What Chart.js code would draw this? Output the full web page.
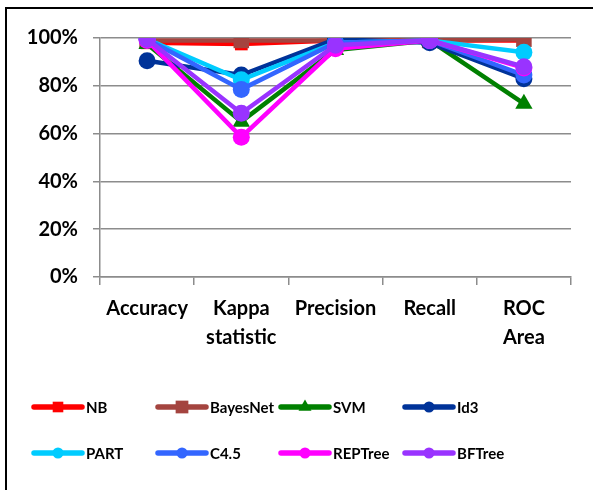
<!DOCTYPE html>
<html>
<head>
<meta charset="utf-8">
<script src="https://cdn.jsdelivr.net/npm/chart.js@4/dist/chart.umd.min.js"></script>
<style>
  body { margin: 0; background: #fff; }
  #wrap { position: relative; width: 593px; height: 490px; overflow: hidden; }
  #frame { position: absolute; left: 5px; top: 7px; width: 700px; height: 700px;
           border-left: 2px solid #000; border-top: 2px solid #000; }
  canvas { position: absolute; left: 0; top: 0; }
</style>
</head>
<body>
<div id="wrap">
  <div id="frame"></div>
  <canvas id="myChart" width="593" height="490"></canvas>
</div>
<script>
// metrics on the x axis
const categories = [['Accuracy'], ['Kappa', 'statistic'], ['Precision'], ['Recall'], ['ROC', 'Area']]

// classifiers, in legend order
const seriesNames = ['NB', 'BayesNet', 'SVM', 'Id3', 'PART', 'C4.5', 'REPTree', 'BFTree']

// values in %
const nb       = [98.0, 97.5, 99.0, 99.0, 99.0]
const bayesNet = [99.0, 99.0, 99.0, 99.0, 99.5]
const svm      = [97.5, 65.0, 95.0, 99.0, 72.5]
const id3      = [90.5, 84.5, 99.5, 98.0, 83.0]
const part     = [99.5, 82.5, 98.0, 99.0, 94.0]
const c45      = [99.5, 78.5, 98.0, 99.0, 84.5]
const repTree  = [99.0, 58.5, 95.5, 99.0, 87.5]
const bfTree   = [99.5, 68.5, 97.0, 99.0, 88.0]

const yTicks = [0, 20, 40, 60, 80, 100]

const seriesValues = [nb, bayesNet, svm, id3, part, c45, repTree, bfTree]
const colors = ['#ff0000', '#a4443f', '#008000', '#003399', '#00ccff', '#3366ff', '#ff00ff', '#9933ff']
const markers = ['rect', 'rect', 'triangle', 'circle', 'circle', 'circle', 'circle', 'circle']
const markerSize = [9, 11, 10, 8.5, 8.5, 8.5, 8.5, 8.5]
const legendMarker = [7.5, 9, 7.5, 5.5, 5.5, 5.5, 5.5, 5.5]

const FONT = 'Lato, "Liberation Sans", sans-serif'
const GRID = '#8c8c8c'

// legend drawn in a fixed 4 x 2 grid like the original
const legendGrid = {
    id: 'legendGrid',
    afterDraw(chart) {
        const ctx = chart.ctx
        const colX = [34, 158, 281, 405]
        const rowY = [407, 453]
        ctx.save()
        chart.data.datasets.forEach((ds, i) => {
            const x = colX[i % 4]
            const y = rowY[Math.floor(i / 4)]
            ctx.strokeStyle = ds.borderColor
            ctx.lineWidth = 5.5
            ctx.lineCap = 'round'
            ctx.beginPath()
            ctx.moveTo(x, y)
            ctx.lineTo(x + 48, y)
            ctx.stroke()
            ctx.fillStyle = ds.borderColor
            Chart.helpers.drawPoint(ctx, {pointStyle: ds.pointStyle, rotation: 0, borderWidth: 0,
                radius: legendMarker[i]}, x + 24, y)
            ctx.fillStyle = '#000'
            ctx.font = 'bold 15px ' + FONT
            ctx.textBaseline = 'middle'
            ctx.textAlign = 'left'
            ctx.fillText(ds.label, x + 52, y + 1)
        })
        ctx.restore()
    }
}

const datasets = seriesNames.map((name, i) => ({
    label: name,
    data: seriesValues[i],
    borderColor: colors[i],
    backgroundColor: colors[i],
    pointBackgroundColor: colors[i],
    pointBorderColor: colors[i],
    pointStyle: markers[i],
    pointRadius: markerSize[i],
    pointBorderWidth: 0,
    borderWidth: 4.5,
    lineTension: 0,
    order: seriesNames.length - i, // later series on top, as in the original
}))

new Chart(document.getElementById('myChart').getContext('2d'), {
    type: 'line',
    data: { labels: categories, datasets: datasets },
    options: {
        responsive: false,
        animation: false,
        layout: { padding: { left: 0, right: 22, top: 38, bottom: 0 } },
        plugins: { legend: { display: false }, tooltip: { enabled: false } },
        scales: {
            x: {
                offset: true,
                grid: { display: true, drawOnChartArea: false, offset: true, color: GRID, lineWidth: 1.5, tickLength: 8 },
                border: { color: GRID, width: 1.5 },
                ticks: { color: '#000', padding: 9, maxRotation: 0, autoSkip: false,
                    font: { family: FONT, size: 20, weight: 'bold', lineHeight: 1.45 } },
                afterFit(scale) { scale.height = 490 - 277 }
            },
            y: {
                min: 0,
                max: 100,
                afterBuildTicks(scale) { scale.ticks = yTicks.map(v => ({value: v})) },
                grid: { color: GRID, lineWidth: 1.5, tickLength: 7 },
                border: { color: GRID, width: 1.5 },
                ticks: { color: '#000', padding: 15, callback: v => v + '%',
                    font: { family: FONT, size: 20, weight: 'bold' } },
                afterFit(scale) { scale.width = 100 }
            }
        }
    },
    plugins: [legendGrid]
})
</script>
</body>
</html>
